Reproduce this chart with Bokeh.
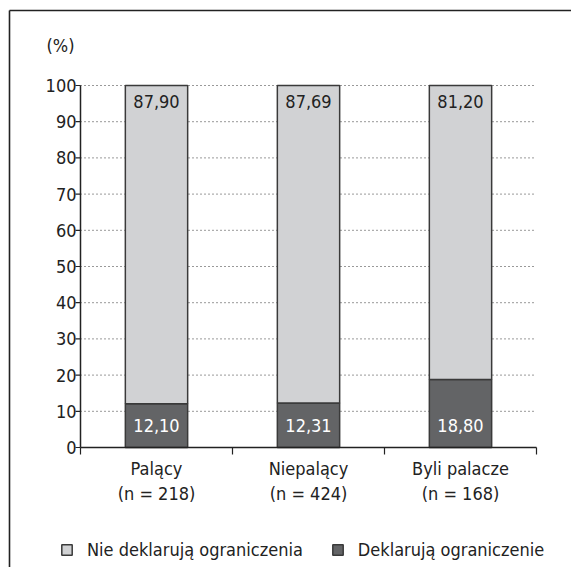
import math
from bokeh.plotting import figure
from bokeh.models import ColumnDataSource, Legend, LegendItem, Range1d
from bokeh.embed import file_html
from bokeh.resources import INLINE
from bokeh.core.properties import value

categories = ["Palący", "Niepalący", "Byli palacze"]
sample_sizes = [218, 424, 168]
declare = [12.10, 12.31, 18.80]
not_declare = [87.90, 87.69, 81.20]
series_names = ["Nie deklarują ograniczenia", "Deklarują ograniczenie"]
y_ticks = [0, 10, 20, 30, 40, 50, 60, 70, 80, 90, 100]
y_unit = "(%)"

FONT = "DejaVu Sans Condensed"
FS = "18px"
LIGHT = "#d1d2d4"
DARK = "#636466"
INK = "#222222"
W, H = 571, 567

# layout of the plotting area inside the canvas (pixels)
AX_LEFT, AX_RIGHT, AX_TOP, AX_BOTTOM = 80, 536, 85, 447
n = len(categories)
CAT_PX = (AX_RIGHT - AX_LEFT) / n
PX_PER_UNIT = (AX_BOTTOM - AX_TOP) / 100.0

x_range = Range1d(-AX_LEFT / CAT_PX, n + (W - AX_RIGHT) / CAT_PX)
y_range = Range1d(-(H - AX_BOTTOM) / PX_PER_UNIT, 100 + AX_TOP / PX_PER_UNIT)


def px_x(px):
    return x_range.start + px / CAT_PX


def px_y(py):
    return y_range.end - py / PX_PER_UNIT


def fmt(v):
    return f"{v:.2f}".replace(".", ",")


xs = [i + 0.5 for i in range(n)]
src = ColumnDataSource(dict(
    x=xs,
    declare=declare,
    not_declare=not_declare,
    total=[a + b for a, b in zip(declare, not_declare)],
    zero=[0] * n,
    top_lbl=[fmt(v) for v in not_declare],
    bot_lbl=[fmt(v) for v in declare],
    cat=categories,
    nlbl=[f"(n = {s})" for s in sample_sizes],
))
xb = ColumnDataSource(dict(x=list(range(n + 1)), y=[0] * (n + 1)))
yt = ColumnDataSource(dict(x=[0] * len(y_ticks), y=y_ticks, lbl=[str(t) for t in y_ticks]))
gr = ColumnDataSource(dict(x0=[0] * (len(y_ticks) - 1), x1=[n] * (len(y_ticks) - 1),
                           y=y_ticks[1:]))

p = figure(width=W, height=H, x_range=x_range, y_range=y_range,
           output_backend="svg", toolbar_location=None,
           min_border_left=0, min_border_right=0, min_border_top=0, min_border_bottom=0)
p.outline_line_color = None
p.axis.visible = False
p.grid.visible = False

# page frame lines (left and top)
p.segment(x0=px_x(9), y0=px_y(10), x1=px_x(9), y1=y_range.start,
          line_color=INK, line_width=1.6)
p.segment(x0=px_x(9), y0=px_y(10), x1=x_range.end, y1=px_y(10),
          line_color=INK, line_width=1.6)

# dotted grid
p.segment(x0="x0", y0="y", x1="x1", y1="y", source=gr, line_color="#333333",
          line_width=1, line_dash="1 3")

rs = p.vbar_stack(["declare", "not_declare"], x="x", width=0.41, source=src,
                  fill_color=[DARK, LIGHT], line_color="#3a3a3a", line_width=1.5)

p.text(x="x", y="total", text="top_lbl", source=src, text_align="center",
       text_baseline="middle", y_offset=16, text_font=value(FONT),
       text_font_size=FS, text_color=INK)
p.text(x="x", y="zero", text="bot_lbl", source=src, text_align="center",
       text_baseline="middle", y_offset=-22, text_font=value(FONT),
       text_font_size=FS, text_color="white")

# x axis
p.segment(x0=0, y0=0, x1=n, y1=0, line_color=INK, line_width=1.5)
p.ray(x="x", y="y", length=7, length_units="screen", angle=-math.pi / 2,
      source=xb, line_color=INK, line_width=1.2)
p.text(x="x", y="zero", text="cat", source=src, text_align="center",
       text_baseline="middle", y_offset=21, text_font=value(FONT),
       text_font_size=FS, text_color=INK)
p.text(x="x", y="zero", text="nlbl", source=src, text_align="center",
       text_baseline="middle", y_offset=46, text_font=value(FONT),
       text_font_size=FS, text_color=INK)

# y axis
p.segment(x0=0, y0=0, x1=0, y1=100, line_color=INK, line_width=1.5)
p.ray(x="x", y="y", length=5, length_units="screen", angle=math.pi,
      source=yt, line_color=INK, line_width=1.2)
p.text(x="x", y="y", text="lbl", source=yt, text_align="right",
       text_baseline="middle", x_offset=-4, text_font=value(FONT),
       text_font_size=FS, text_color=INK)
p.text(x=[0], y=[100], text=[y_unit], text_align="left", text_baseline="middle",
       x_offset=-34, y_offset=-40, text_font=value(FONT),
       text_font_size=FS, text_color=INK)

legend = Legend(items=[LegendItem(label=series_names[0], renderers=[rs[1]]),
                       LegendItem(label=series_names[1], renderers=[rs[0]])],
                orientation="horizontal", location=(60, 7),
                label_text_font=FONT, label_text_font_size=FS, label_text_color=INK,
                glyph_width=13, glyph_height=13, spacing=28, label_standoff=14,
                border_line_color=None, background_fill_alpha=0, padding=0, margin=0)
p.add_layout(legend)

open("out.html", "w").write(file_html(p, INLINE))
